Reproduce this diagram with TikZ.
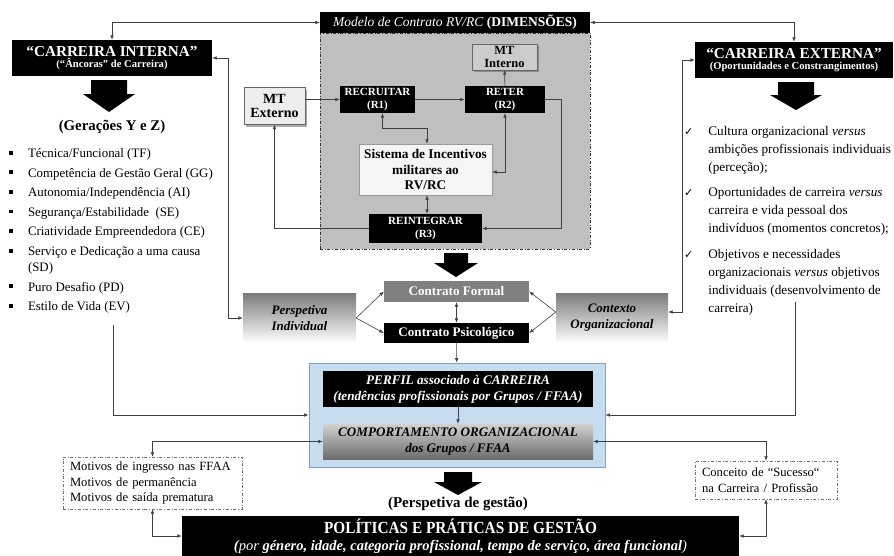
\documentclass[tikz,border=0pt]{standalone}
\usepackage{fontspec}
\setmainfont{Liberation Serif}
\newfontfamily\symfont{DejaVu Sans}
\usepackage{xcolor}
\usetikzlibrary{positioning,arrows.meta,shadows,calc}

\definecolor{perfilblue}{HTML}{C6DCEF}
\definecolor{perfiledge}{HTML}{7F9FC0}
\newcommand{\sqbul}{\rule[2.8pt]{3.8pt}{3.8pt}}
\newcommand{\chk}{{\symfont\fontsize{11}{12}\selectfont ✓}}

\begin{document}
\begin{tikzpicture}[x=1pt, y=-1pt,
    line/.style={draw=black!75, line width=0.6pt},
    arr/.style={line, -{Latex[length=4.5pt,width=3.6pt]}},
    dbl/.style={line, {Latex[length=4.5pt,width=3.6pt]}-{Latex[length=4.5pt,width=3.6pt]}},
    blk/.style={rectangle, fill=black, text=white, align=center, inner sep=0pt, font=\bfseries},
    mtbox/.style={rectangle, draw=black!60, align=center, inner sep=0pt,
                  drop shadow={shadow xshift=2pt, shadow yshift=-2pt, fill=black!65}},
    rbox/.style={blk, font=\bfseries\fontsize{11}{13.5}\selectfont},
    fade/.style={rectangle, top color=black!52, bottom color=white, align=center, inner sep=0pt,
                 font=\bfseries\itshape\fontsize{13}{16}\selectfont},
    note/.style={rectangle, draw=black!55, dash dot, fill=white, align=left, inner sep=0pt,
                 font=\fontsize{12.6}{15.5}\selectfont},
  ]
  \useasboundingbox (0,0) rectangle (894,555);

  % contract model
  \node[rectangle, draw=black!80, dash dot, fill=black!25, minimum width=270pt, minimum height=216pt,
        inner sep=0pt] (dims) at (455,141) {};
  \node[blk, minimum width=270pt, minimum height=21pt, font=\fontsize{13.5}{15}\selectfont] (modelo) at (455,22.5)
       {\textit{Modelo de Contrato RV/RC} \textbf{(DIMENSÕES)}};
  \node[mtbox, fill=black!20, minimum width=65pt, minimum height=26pt,
        font=\bfseries\fontsize{12.5}{12.5}\selectfont] (mtint) at (504.5,57) {MT\\Interno};
  \node[mtbox, fill=black!7, minimum width=61pt, minimum height=37pt,
        font=\bfseries\fontsize{14}{14}\selectfont] (mtext) at (274.5,106) {MT\\Externo};
  \node[rbox, minimum width=75pt, minimum height=27pt] (recr) at (377.5,99.5) {RECRUITAR\\(R1)};
  \node[rbox, minimum width=80pt, minimum height=27pt] (reter) at (505,99.5) {RETER\\(R2)};
  \node[rectangle, draw=black!40, fill=black!4, minimum width=133pt, minimum height=51pt, inner sep=0pt,
        align=center, font=\bfseries\fontsize{13.3}{15.5}\selectfont] (sist) at (425.5,169.5)
       {Sistema de Incentivos\\militares ao\\RV/RC};
  \node[rbox, minimum width=113pt, minimum height=29pt] (reint) at (425.5,228.5) {REINTEGRAR\\(R3)};

  % careers
  \node[blk, minimum width=200pt, minimum height=36pt] (cint) at (112,58)
       {{\fontsize{15.2}{16}\selectfont “CARREIRA INTERNA”}\\[-1pt]{\fontsize{10.6}{11}\selectfont (“Âncoras” de Carreira)}};
  \node[blk, minimum width=198pt, minimum height=36pt] (cext) at (794,60)
       {{\fontsize{15.2}{16}\selectfont “CARREIRA EXTERNA”}\\[-1pt]{\fontsize{10.6}{11}\selectfont (Oportunidades e Constrangimentos)}};
  \node[font=\bfseries\fontsize{14.8}{16}\selectfont, inner sep=0pt] (geracoes) at (112,127) {(Gerações Y e Z)};
  \node[anchor=north west, inner sep=0pt, font=\fontsize{12.9}{16}\selectfont] (ancoras) at (9,146)
       {\begin{tabular}{@{}l@{\hspace{15pt}}l@{}}
          \sqbul & Técnica/Funcional (TF)\\[3.6pt]
          \sqbul & Competência de Gestão Geral (GG)\\[3.6pt]
          \sqbul & Autonomia/Independência (AI)\\[3.6pt]
          \sqbul & Segurança/Estabilidade~ (SE)\\[3.6pt]
          \sqbul & Criatividade Empreendedora (CE)\\[3.6pt]
          \sqbul & Serviço e Dedicação a uma causa\\
                 & (SD)\\[3.6pt]
          \sqbul & Puro Desafio (PD)\\[3.6pt]
          \sqbul & Estilo de Vida (EV)
        \end{tabular}};
  \node[anchor=north west, inner sep=0pt, font=\fontsize{13.2}{17.9}\selectfont] (oportun) at (684,122.5)
       {\begin{tabular}{@{}l@{\hspace{15pt}}l@{}}
          \chk & Cultura organizacional \textit{versus}\\
               & ambições profissionais individuais\\
               & (perceção);\\[8pt]
          \chk & Oportunidades de carreira \textit{versus}\\
               & carreira e vida pessoal dos\\
               & indivíduos (momentos concretos);\\[8pt]
          \chk & Objetivos e necessidades\\
               & organizacionais \textit{versus} objetivos\\
               & individuais (desenvolvimento de\\
               & carreira)
        \end{tabular}};
  \coordinate (lstart) at (113,325);
  \coordinate (rstart) at (795,302);

  % contracts
  \node[fade, minimum width=113pt, minimum height=50pt] (persp) at (299.5,318) {Perspetiva\\Individual};
  \node[fade, minimum width=112pt, minimum height=50pt] (ctx) at (612,318) {Contexto\\Organizacional};
  \node[blk, fill=black!50, minimum width=145pt, minimum height=21pt, font=\bfseries\fontsize{13.1}{15}\selectfont]
       (formal) at (456.5,291.5) {Contrato Formal};
  \node[blk, minimum width=145pt, minimum height=20pt, font=\bfseries\fontsize{13.1}{15}\selectfont]
       (psic) at (456.5,333) {Contrato Psicológico};

  % profile
  \node[rectangle, draw=perfiledge, fill=perfilblue, line width=0.8pt, minimum width=296pt, minimum height=104pt,
        inner sep=0pt] (blue) at (457,415) {};
  \node[blk, minimum width=270pt, minimum height=36pt, font=\bfseries\itshape\fontsize{13.2}{16}\selectfont]
       (perfil) at (458,389) {PERFIL associado à CARREIRA\\(tendências profissionais por Grupos / FFAA)};
  \node[rectangle, top color=black!18, bottom color=black!58, minimum width=270pt, minimum height=35pt,
        inner sep=0pt, align=center, font=\bfseries\itshape\fontsize{13.1}{16}\selectfont]
       (comp) at (458,441.5) {COMPORTAMENTO ORGANIZACIONAL\\dos Grupos / FFAA};
  \node[note, minimum width=179pt, minimum height=52pt, text width=165pt] (motiv) at (152.5,483)
       {Motivos de ingresso nas FFAA\\Motivos de permanência\\Motivos de saída prematura};
  \node[note, minimum width=142pt, minimum height=38pt, text width=128pt] (conc) at (766,480)
       {Conceito de “Sucesso“\\na Carreira / Profissão};
  \node[font=\bfseries\fontsize{15}{16}\selectfont, inner sep=0pt] (gestao) at (458,504) {(Perspetiva de gestão)};
  \node[blk, minimum width=557pt, minimum height=40pt, font=\bfseries\fontsize{14.5}{16.5}\selectfont] (polit) at (460.5,536)
       {{\fontsize{17}{18}\selectfont\scalebox{0.9}[1]{POLÍTICAS E PRÁTICAS DE GESTÃO}}\\
        {\itshape (\mdseries por \bfseries género, idade, categoria profissional, tempo de serviço, área funcional\mdseries)}};

  % big arrows
  \foreach \cx/\ya/\yb/\yc/\s/\h in {109/80/94/112/18/26, 796/82/95/110/18/26,
                                     456/253/263/277/12/22, 458/472/482/495/14/24}
    \fill[black] (\cx-\s,\ya) -- (\cx+\s,\ya) -- (\cx+\s,\yb) -- (\cx+\h,\yb) -- (\cx,\yc)
                 -- (\cx-\h,\yb) -- (\cx-\s,\yb) -- cycle;

  % connectors
  \draw[arr] (mtext.east |- recr.west) -- (recr.west);
  \draw[arr] (recr) -- (reter);
  \draw[arr] (reter) -- (mtint);
  \draw[arr] (reter.east) -- ++(16,0) |- (reint.east);
  \draw[arr] (reint.west) -| (mtext.south);
  \draw[dbl] ($(recr.south)+(5,0)$) -- ++(0,15) -| ($(sist.north)+(1.5,0)$);
  \draw[dbl] (reter.south) |- ($(sist.east)+(0,2.5)$);
  \draw[dbl] ($(sist.south)+(1.5,0)$) -- ($(reint.north)+(1.5,0)$);
  \draw[dbl] (modelo.west) -| (cint.north);
  \draw[dbl] (modelo.east) -| (cext.north);
  \draw[dbl] (cint.east) -- ++(16,0) |- (persp.west);
  \draw[dbl] (cext.west) -- ++(-13,0) |- ($(ctx.east)+(0,-6)$);
  \draw[arr] (persp.east) -- (formal.west);
  \draw[arr] (persp.east) -- (psic.west);
  \draw[arr] ($(ctx.west)+(0,-6)$) -- (formal.east);
  \draw[arr] ($(ctx.west)+(0,-6)$) -- (psic.east);
  \draw[dbl] (formal) -- (psic);
  \draw[arr] (psic) -- (blue);
  \draw[arr] (perfil) -- (comp);
  \draw[arr] (lstart) |- (blue.west);
  \draw[arr] (rstart) |- (blue.east);
  \draw[dbl] (comp.west) -| (motiv.north);
  \draw[dbl] (comp.east) -| (conc.north);
  \draw[dbl] (motiv.south) |- (polit.west);
  \draw[dbl] (conc.south) |- (polit.east);
\end{tikzpicture}
\end{document}
